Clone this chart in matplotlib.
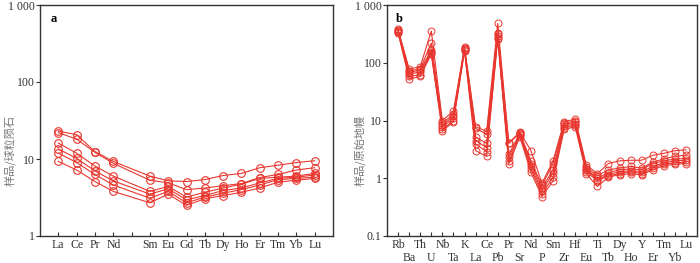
import matplotlib
matplotlib.use("Agg")
import matplotlib.pyplot as plt
from matplotlib.ticker import FixedLocator, NullLocator

# ---------------- data ----------------
ree_elements = ["La", "Ce", "Pr", "Nd", "", "Sm", "Eu", "Gd", "Tb", "Dy", "Ho", "Er", "Tm", "Yb", "Lu"]
ree_s1 = [23.0, 20.7, 12.5, 9.3, None, 6.0, 5.2, 5.1, 5.4, 6.1, 6.5, 7.7, 8.3, 9.0, 9.5]
ree_s2 = [22.0, 18.1, 12.2, 8.8, None, 5.3, 4.9, 4.0, 4.2, 4.5, 4.8, 5.75, 6.3, 7.2, 7.7]
ree_s3 = [16.1, 11.9, 8.1, 6.0, None, 3.8, 4.4, 3.2, 3.7, 4.2, 4.7, 5.6, 5.8, 6.0, 6.5]
ree_s4 = [13.5, 10.2, 7.0, 5.2, None, 3.5, 4.1, 2.95, 3.35, 3.9, 4.2, 4.9, 5.6, 5.8, 6.2]
ree_s5 = [11.9, 9.0, 6.3, 4.6, None, 3.1, 3.8, 2.7, 3.2, 3.6, 4.0, 4.6, 5.4, 5.6, 5.8]
ree_s6 = [9.3, 7.2, 5.1, 3.8, None, 2.7, 3.5, 2.5, 3.05, 3.35, 3.7, 4.2, 5.0, 5.3, 5.6]

te_elements = ["Rb", "Ba", "Th", "U", "Nb", "Ta", "K", "La", "Ce", "Pb", "Pr", "Sr", "Nd", "P",
               "Sm", "Zr", "Hf", "Eu", "Ti", "Tb", "Dy", "Ho", "Y", "Er", "Tm", "Yb", "Lu"]
te_s1 = [380, 78, 85, 355, 10.0, 14.5, 185, 7.8, 6.5, 480, 4.1, 6.3, 3.0, 0.82,
         2.0, 9.6, 10.5, 1.7, 1.2, 1.8, 2.0, 2.05, 2.05, 2.5, 2.7, 3.0, 3.1]
te_s2 = [370, 72, 78, 220, 9.0, 13.0, 180, 7.3, 5.8, 330, 4.0, 6.1, 2.0, 0.75,
         1.8, 9.0, 9.8, 1.55, 1.1, 1.4, 1.5, 1.6, 1.5, 1.9, 2.15, 2.4, 2.5]
te_s3 = [360, 68, 75, 165, 8.3, 12.0, 175, 5.2, 4.0, 310, 2.6, 6.0, 1.8, 0.68,
         1.4, 8.6, 9.3, 1.45, 1.0, 1.25, 1.4, 1.45, 1.4, 1.8, 2.0, 2.15, 2.2]
te_s4 = [350, 63, 70, 155, 7.7, 11.0, 170, 4.5, 3.4, 290, 2.3, 5.8, 1.6, 0.60,
         1.25, 8.0, 8.8, 1.4, 0.95, 1.15, 1.3, 1.35, 1.3, 1.6, 1.85, 2.0, 2.05]
te_s5 = [340, 58, 62, 150, 7.0, 10.0, 165, 3.9, 2.9, 270, 2.0, 5.5, 1.45, 0.53,
         1.05, 7.5, 8.2, 1.3, 0.9, 1.1, 1.2, 1.3, 1.2, 1.5, 1.75, 1.85, 1.9]
te_s6 = [330, 52, 58, 140, 6.6, 9.5, 160, 3.0, 2.4, 260, 1.75, 5.2, 1.27, 0.48,
         0.9, 7.0, 7.8, 1.2, 0.72, 1.05, 1.15, 1.2, 1.15, 1.4, 1.65, 1.75, 1.8]

ree_series = [ree_s1, ree_s2, ree_s3, ree_s4, ree_s5, ree_s6]
te_series = [te_s1, te_s2, te_s3, te_s4, te_s5, te_s6]

ylabel_a = "样品/球粒陨石"
ylabel_b = "样品/原始地幔"

# ---------------- style ----------------
RED = "#e8362e"
SERIF = ["Liberation Serif", "DejaVu Serif"]
CJK = ["Noto Sans CJK SC", "DejaVu Sans"]
FS = 8.5
TOP, BOT = 5, 236

fig = plt.figure(figsize=(7.0, 2.63), dpi=100)
ax_a = fig.add_axes([40/700, 1-BOT/263, (333-40)/700, (BOT-TOP)/263])
ax_b = fig.add_axes([387/700, 1-BOT/263, (697-387)/700, (BOT-TOP)/263])


def style_axes(ax):
    for sp in ax.spines.values():
        sp.set_color("#333333")
        sp.set_linewidth(1.0)
    ax.tick_params(axis="y", which="both", direction="out", length=3, width=0.8,
                   labelsize=FS, colors="#333333", pad=1)
    ax.tick_params(axis="x", which="major", direction="in", length=3, width=0.8,
                   labelsize=FS, colors="#333333", pad=2.5)
    ax.tick_params(axis="x", which="minor", direction="in", length=3, width=0.8,
                   labelsize=FS, colors="#333333", pad=11.5)
    for lab in (ax.get_xticklabels() + ax.get_yticklabels()
                + ax.get_xticklabels(minor=True)):
        lab.set_fontfamily(SERIF)


# ---- panel a ----
xa = list(range(1, len(ree_elements) + 1))
for s in ree_series:
    xs = [x for x, v in zip(xa, s) if v is not None]
    vs = [v for v in s if v is not None]
    ax_a.plot(xs, vs, color=RED, lw=0.8, marker="o", ms=5.5, mfc="none",
              mec=RED, mew=0.8)
ax_a.set_yscale("log")
ax_a.set_ylim(1, 1000)
ax_a.set_xlim(0, len(ree_elements) + 1)
ax_a.yaxis.set_major_locator(FixedLocator([1, 10, 100, 1000]))
ax_a.yaxis.set_minor_locator(NullLocator())
ax_a.set_yticklabels(["1", "10", "100", "1 000"])
ax_a.set_xticks(xa)
ax_a.set_xticklabels(ree_elements)
style_axes(ax_a)
ax_a.text(0.035, 0.965, "a", transform=ax_a.transAxes, ha="left", va="top",
          fontsize=9, fontweight="bold", family=SERIF)
fig.text(10/700, 1-150/263, ylabel_a, rotation=90, ha="center", va="center",
         fontsize=8, color="#777777", family=CJK)

# ---- panel b ----
xb = list(range(1, len(te_elements) + 1))
for s in te_series:
    ax_b.plot(xb, s, color=RED, lw=0.8, marker="o", ms=5.0, mfc="none",
              mec=RED, mew=0.7)
ax_b.set_yscale("log")
ax_b.set_ylim(0.1, 1000)
ax_b.set_xlim(0, len(te_elements) + 1)
ax_b.yaxis.set_major_locator(FixedLocator([0.1, 1, 10, 100, 1000]))
ax_b.yaxis.set_minor_locator(NullLocator())
ax_b.set_yticklabels(["0.1", "1", "10", "100", "1 000"])
ax_b.set_xticks(xb[0::2])
ax_b.set_xticklabels(te_elements[0::2])
ax_b.set_xticks(xb[1::2], minor=True)
ax_b.set_xticklabels(te_elements[1::2], minor=True)
style_axes(ax_b)
ax_b.text(0.03, 0.965, "b", transform=ax_b.transAxes, ha="left", va="top",
          fontsize=9, fontweight="bold", family=SERIF)
fig.text(360/700, 1-150/263, ylabel_b, rotation=90, ha="center", va="center",
         fontsize=8, color="#777777", family=CJK)

fig.savefig("out.png", dpi=100)
